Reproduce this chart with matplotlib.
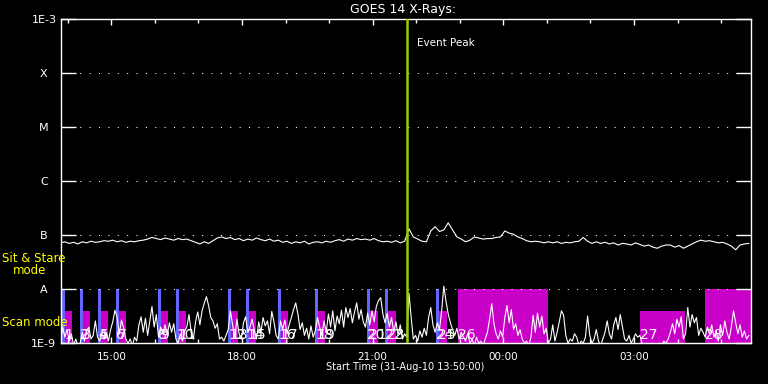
import numpy as np
import matplotlib.pyplot as plt
from matplotlib.ticker import FixedLocator, NullLocator

# =========================
# data (time = hours after 31-Aug-10 13:50:00)
# =========================
T_END = 15.84
EVENT_PEAK = 7.955

# GOES 1-8 A flux, log10(W/m^2), one value every 0.1 h
goes_step = 0.1
goes_log = [
    -7.14, -7.12, -7.15, -7.13, -7.16, -7.12, -7.14, -7.11, -7.13, -7.12,
    -7.10, -7.11, -7.09, -7.12, -7.10, -7.13, -7.11, -7.12, -7.10, -7.09,
    -7.07, -7.04, -7.06, -7.08, -7.05, -7.07, -7.09, -7.06, -7.08, -7.07,
    -7.10, -7.13, -7.16, -7.12, -7.15, -7.10, -7.05, -7.03, -7.06, -7.04,
    -7.08, -7.06, -7.10, -7.07, -7.09, -7.05, -7.08, -7.10, -7.07, -7.11,
    -7.09, -7.13, -7.11, -7.15, -7.12, -7.14, -7.11, -7.16, -7.13, -7.12,
    -7.14, -7.11, -7.13, -7.10, -7.08, -7.11, -7.07, -7.09, -7.06, -7.08,
    -7.07, -7.09, -7.06, -7.10, -7.12, -7.11, -7.13, -7.10, -7.14, -7.11,
    -6.88, -7.03, -7.07, -7.11, -7.12, -6.92, -6.84, -6.93, -6.90, -6.77,
    -6.90, -7.03, -7.07, -7.12, -7.09, -7.03, -7.05, -7.07, -7.06, -7.06,
    -7.04, -7.03, -6.92, -6.96, -6.98, -7.03, -7.06, -7.10, -7.12, -7.11,
    -7.12, -7.14, -7.12, -7.14, -7.12, -7.15, -7.13, -7.14, -7.12, -7.11,
    -7.04, -7.11, -7.15, -7.12, -7.15, -7.13, -7.16, -7.14, -7.18, -7.15,
    -7.16, -7.18, -7.14, -7.17, -7.20, -7.18, -7.22, -7.24, -7.20, -7.18,
    -7.18, -7.22, -7.19, -7.24, -7.20, -7.16, -7.12, -7.09, -7.11, -7.10,
    -7.12, -7.14, -7.13, -7.16, -7.20, -7.27, -7.18, -7.16, -7.15,
]

# lower light curve, units of 1E-9, one value every 0.05 h
low_step = 0.05
low_flux = [
    1.0, 2.0, 1.3, 1.8, 1.1, 1.5, 0.9, 1.2, 0.9, 1.0, 1.6, 1.1, 1.7, 2.0, 1.2, 1.4, 2.6, 1.3, 1.1, 1.5,
    1.2, 1.6, 1.1, 1.8, 2.5, 4.1, 3.0, 1.5, 2.7, 1.9, 1.2, 1.0, 1.2, 0.9, 1.3, 1.1, 2.2, 3.1, 1.6, 2.9,
    1.4, 2.6, 4.8, 2.0, 3.4, 1.3, 2.0, 1.5, 2.2, 1.4, 2.4, 1.6, 2.3, 1.2, 1.0, 1.5, 1.1, 1.7, 2.0, 3.4,
    1.6, 1.2, 2.5, 3.8, 2.2, 4.0, 5.5, 7.3, 5.0, 3.0, 2.6, 1.9, 2.3, 1.2, 1.3, 1.1, 1.4, 1.8, 4.0, 2.2,
    1.3, 2.8, 1.5, 1.2, 2.4, 3.1, 1.6, 2.0, 2.8, 1.7, 1.2, 2.5, 1.6, 3.0, 2.1, 2.6, 1.5, 3.9, 2.5, 1.4,
    1.2, 2.6, 1.8, 2.7, 1.5, 2.2, 3.0, 4.2, 5.6, 3.5, 1.8, 2.4, 1.4, 1.9, 1.2, 2.1, 1.3, 1.7, 3.0, 2.0,
    1.4, 2.6, 1.6, 3.5, 2.0, 4.0, 1.7, 3.2, 2.3, 4.1, 2.0, 4.6, 3.0, 4.4, 2.4, 3.8, 5.6, 2.8, 4.2, 2.5,
    2.0, 3.6, 2.2, 4.0, 2.5, 4.8, 6.2, 7.0, 3.5, 2.4, 3.6, 2.0, 3.0, 1.6, 2.5, 1.4, 2.2, 1.2, 1.5, 1.3,
    8.4, 3.0, 1.2, 1.4, 1.1, 1.7, 1.3, 1.9, 1.4, 3.0, 4.6, 2.2, 1.6, 2.4, 1.8, 4.0, 11.4, 6.0, 3.5, 2.4,
    1.8, 1.4, 1.9, 1.2, 1.6, 1.3, 1.1, 1.5, 1.0, 1.2, 0.9, 1.3, 1.0, 1.1, 0.9, 1.2, 1.6, 2.8, 5.4, 2.3,
    1.5, 1.2, 1.7, 1.3, 3.0, 5.0, 2.4, 4.2, 1.8, 2.3, 1.4, 1.8, 1.2, 1.0, 1.1, 0.9, 1.3, 3.3, 1.6, 3.6,
    2.0, 3.2, 1.5, 1.9, 1.0, 1.2, 2.2, 1.1, 1.6, 2.5, 4.0, 3.3, 1.4, 1.0, 1.2, 1.1, 1.5, 1.3, 0.9, 1.1,
    1.0, 1.3, 3.2, 1.4, 1.0, 1.2, 1.8, 1.1, 0.9, 1.2, 1.6, 2.6, 1.5, 1.2, 2.2, 3.0, 1.8, 3.4, 2.0, 1.2,
    1.1, 1.4, 1.0, 1.2, 1.5, 1.3, 1.4, 1.0, 0.9, 1.0, 0.9, 0.9, 1.0, 0.9, 0.9, 1.0, 0.9, 1.1, 1.0, 1.2,
    1.6, 2.3, 1.5, 2.8, 2.0, 3.1, 1.2, 1.5, 4.6, 2.0, 3.4, 2.4, 3.0, 1.4, 1.9, 1.6, 1.3, 2.0, 1.5, 2.2,
    1.3, 1.7, 1.1, 2.2, 1.4, 2.6, 1.6, 1.2, 2.0, 4.0, 2.4, 1.5, 2.2, 1.3, 1.7, 1.2, 1.4,
]

# sit & stare observations (start, hours)
sit_start = [0.034, 0.448, 0.861, 1.274, 2.238, 2.651, 3.845, 4.259, 4.993, 5.843, 7.036, 7.450, 8.621]
sit_labels = ["", "2", "4", "6", "8", "10", "12", "14", "16", "18", "20", "22", "24"]
SIT_LEN = 0.06

# scan observations (start, end in hours, top level)
scan_start = [0.080, 0.494, 0.907, 1.320, 2.284, 2.697, 3.898, 4.311, 5.046, 5.895,
              7.089, 7.502, 8.673, 9.132, 13.30, 14.80]
scan_end = [0.264, 0.677, 1.091, 1.504, 2.468, 2.881, 4.082, 4.495, 5.230, 6.072,
            7.282, 7.695, 8.866, 11.184, 14.34, 15.84]
scan_top = [4e-9] * 13 + [1e-8, 4e-9, 1e-8]
scan_labels = ["1", "3", "5", "7", "9", "11", "13", "15", "17", "19",
               "21", "23", "25", "26", "27", "28"]

level_vals = [1e-3, 1e-4, 1e-5, 1e-6, 1e-7, 1e-8, 1e-9]
level_names = ["1E-3", "X", "M", "C", "B", "A", "1E-9"]

time_labels = ["15:00", "18:00", "21:00", "00:00", "03:00"]
time_pos = [70 / 60 + 3 * k for k in range(len(time_labels))]
hour_pos = [10 / 60 + k for k in range(16)]

BLUE = "#6464ff"
MAGENTA = "#c800c8"
GREEN = "#9acd00"
YELLOW = "#ffff00"

# =========================
# figure
# =========================
plt.rcParams["font.family"] = ["DejaVu Sans"]
fig = plt.figure(figsize=(7.68, 3.84), dpi=100, facecolor="black")
ax = fig.add_axes([60.5 / 768, 1 - 343.3 / 384, 690 / 768, 324 / 384])
ax.set_facecolor("black")
ax.set_yscale("log")
ax.set_xlim(0, T_END)
ax.set_ylim(1e-9, 1e-3)

# scan mode (magenta) and sit & stare (blue) blocks
s0 = np.array(scan_start)
s1 = np.array(scan_end)
ax.bar(s0, np.array(scan_top) - 1e-9, width=s1 - s0, bottom=1e-9,
       align="edge", color=MAGENTA, linewidth=0, antialiased=False, zorder=1)
ax.bar(sit_start, 1e-8 - 1e-9, width=SIT_LEN, bottom=1e-9,
       align="edge", color=BLUE, linewidth=0, antialiased=False, zorder=1)

# dotted level lines
for v in level_vals[1:-1]:
    ax.axhline(v, color="white", lw=0.75, linestyle=(0, (1, 8)), zorder=2)

# lower light curve
low_t = np.arange(len(low_flux)) * low_step
ax.plot(low_t, np.array(low_flux) * 1e-9, color="white", lw=0.8, zorder=3)

# observation numbers
for t, lab in zip(sit_start, sit_labels):
    ax.text(t, 1.05e-9, lab, color="white", fontsize=10, ha="left", va="bottom", zorder=4)
for t, lab in zip(scan_start, scan_labels):
    ax.text(t, 1.05e-9, lab, color="white", fontsize=10, ha="left", va="bottom", zorder=4)

# GOES curve
goes_t = np.arange(len(goes_log)) * goes_step
ax.plot(goes_t, 10 ** np.array(goes_log), color="white", lw=0.8, zorder=5)

# event peak
ax.axvline(EVENT_PEAK, color=GREEN, lw=1.8, zorder=6)
ax.text(EVENT_PEAK + 0.22, 3.6e-4, "Event Peak", color="white", fontsize=7.5,
        ha="left", va="center")

# axes styling
for sp in ax.spines.values():
    sp.set_color("white")
    sp.set_linewidth(1.0)

ax.yaxis.set_major_locator(FixedLocator(level_vals))
ax.yaxis.set_minor_locator(NullLocator())
ax.set_yticklabels(level_names)
for lab in ax.get_yticklabels():
    lab.set_horizontalalignment("center")
ax.tick_params(axis="y", which="major", direction="in", length=10.5, width=1,
               color="white", labelcolor="white", labelsize=8, pad=12,
               left=True, right=True)

ax.xaxis.set_major_locator(FixedLocator(time_pos))
ax.xaxis.set_minor_locator(FixedLocator(hour_pos))
ax.set_xticklabels(time_labels)
ax.tick_params(axis="x", which="major", direction="in", length=4.5, width=1,
               color="white", labelcolor="white", labelsize=7.5, pad=6,
               top=True, bottom=True)
ax.tick_params(axis="x", which="minor", direction="in", length=3, width=1,
               color="white", top=True, bottom=True)

# texts outside the axes
fig.text(403 / 768, 1 - 9 / 384, "GOES 14 X-Rays:", color="white", fontsize=9,
         ha="center", va="center")
fig.text(405 / 768, 1 - 367.5 / 384, "Start Time (31-Aug-10 13:50:00)", color="white",
         fontsize=7, ha="center", va="center")
fig.text(2 / 768, 1 - 258 / 384, "Sit & Stare", color=YELLOW, fontsize=8.5,
         ha="left", va="center")
fig.text(13 / 768, 1 - 271 / 384, "mode", color=YELLOW, fontsize=8.5,
         ha="left", va="center")
fig.text(2 / 768, 1 - 323 / 384, "Scan mode", color=YELLOW, fontsize=8.5,
         ha="left", va="center")

fig.savefig("out.png", dpi=100, facecolor="black")
